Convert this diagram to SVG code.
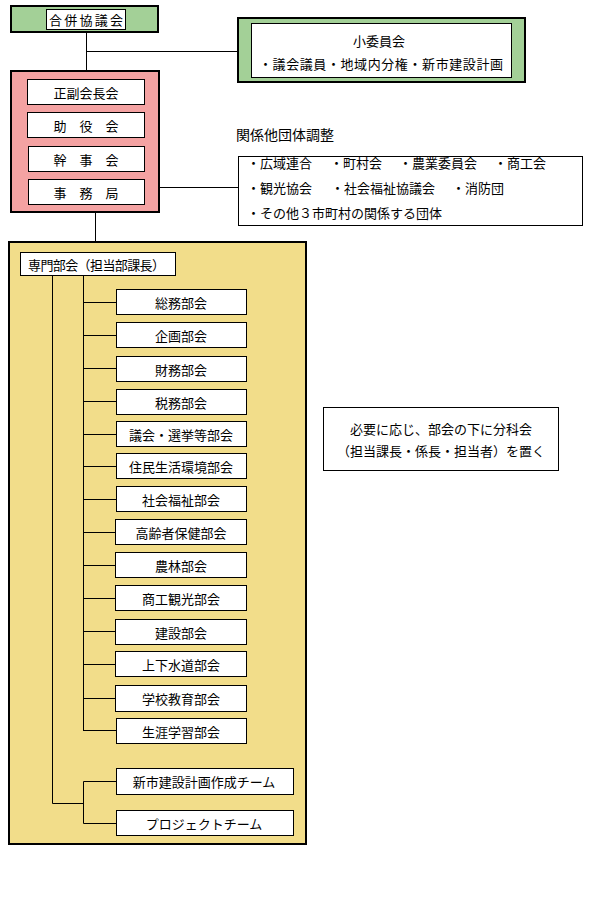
<svg xmlns="http://www.w3.org/2000/svg" width="590" height="907" viewBox="0 0 590 907">
<style>
text{font-family:"Noto Sans CJK JP","Noto Sans CJK SC",sans-serif;font-size:13px;fill:#000;dominant-baseline:central}
.c{text-anchor:middle}
.box{fill:#fff;stroke:#000;stroke-width:1}
.thick{stroke:#000;stroke-width:2}
.green{fill:#A3D097}
.pink{fill:#F4A2A2}
.yellow{fill:#F2DD8A}
.ln{stroke:#000;stroke-width:1;fill:none}
</style>
<rect width="590" height="907" fill="#fff"/>
<g id="gappei">
<rect class="green thick" x="11" y="6" width="147" height="26"/>
<rect class="box" x="46.5" y="9.5" width="79" height="20"/>
<text class="c" x="86" y="19.5" textLength="74" lengthAdjust="spacing">合併協議会</text>
</g>
<g id="shoiinkai">
<rect class="green thick" x="238" y="18" width="287" height="64"/>
<rect class="box" x="251.5" y="23.5" width="260" height="54"/>
<text class="c" x="379" y="40">小委員会</text>
<text class="c" x="381" y="63" textLength="244" lengthAdjust="spacing">・議会議員・地域内分権・新市建設計画</text>
</g>
<g id="kanbu">
<rect class="pink thick" x="11" y="71" width="148" height="141"/>
<g id="seifuku"><rect class="box" x="27.5" y="79.5" width="117" height="25"/><text class="c" x="86" y="92">正副会長会</text></g>
<g id="joyaku"><rect class="box" x="27.5" y="112.5" width="117" height="25"/><text class="c" x="86" y="125">助　役　会</text></g>
<g id="kanji"><rect class="box" x="28.5" y="146.5" width="116" height="25"/><text class="c" x="86" y="159">幹　事　会</text></g>
<g id="jimukyoku"><rect class="box" x="28.5" y="179.5" width="116" height="25"/><text class="c" x="86" y="192">事　務　局</text></g>
</g>
<g id="kankei">
<text x="236" y="134" style="font-size:14px">関係他団体調整</text>
<rect class="box" x="238.5" y="156.5" width="344" height="69"/>
<text x="247" y="162">・広域連合</text>
<text x="330" y="162">・町村会</text>
<text x="399" y="162">・農業委員会</text>
<text x="494" y="162">・商工会</text>
<text x="247" y="187">・観光協会</text>
<text x="331" y="187">・社会福祉協議会</text>
<text x="452" y="187">・消防団</text>
<text x="247" y="212">・その他３市町村の関係する団体</text>
</g>
<g id="senmon">
<rect class="yellow thick" x="9" y="242" width="297" height="602"/>
<g id="senmon-head"><rect class="box" x="20.5" y="252.5" width="155" height="23"/><text x="28" y="264" textLength="137" lengthAdjust="spacing">専門部会（担当部課長）</text></g>
<g id="n1"><rect class="box" x="116.5" y="289.5" width="130" height="25"/><text class="c" x="181" y="302">総務部会</text></g>
<g id="n2"><rect class="box" x="116.5" y="322.5" width="130" height="25"/><text class="c" x="181" y="335">企画部会</text></g>
<g id="n3"><rect class="box" x="116.5" y="356.5" width="130" height="25"/><text class="c" x="181" y="369">財務部会</text></g>
<g id="n4"><rect class="box" x="116.5" y="389.5" width="130" height="25"/><text class="c" x="181" y="402">税務部会</text></g>
<g id="n5"><rect class="box" x="116.5" y="421.5" width="130" height="25"/><text class="c" x="181" y="434">議会・選挙等部会</text></g>
<g id="n6"><rect class="box" x="116.5" y="453.5" width="130" height="25"/><text class="c" x="181" y="466">住民生活環境部会</text></g>
<g id="n7"><rect class="box" x="116.5" y="486.5" width="130" height="25"/><text class="c" x="181" y="499">社会福祉部会</text></g>
<g id="n8"><rect class="box" x="115.5" y="519.5" width="131" height="25"/><text class="c" x="181" y="532">高齢者保健部会</text></g>
<g id="n9"><rect class="box" x="115.5" y="552.5" width="131" height="25"/><text class="c" x="181" y="565">農林部会</text></g>
<g id="n10"><rect class="box" x="115.5" y="585.5" width="131" height="25"/><text class="c" x="181" y="598">商工観光部会</text></g>
<g id="n11"><rect class="box" x="115.5" y="619.5" width="131" height="25"/><text class="c" x="181" y="632">建設部会</text></g>
<g id="n12"><rect class="box" x="115.5" y="651.5" width="131" height="25"/><text class="c" x="181" y="664">上下水道部会</text></g>
<g id="n13"><rect class="box" x="115.5" y="685.5" width="131" height="26"/><text class="c" x="181" y="698">学校教育部会</text></g>
<g id="n14"><rect class="box" x="116.5" y="718.5" width="130" height="25"/><text class="c" x="181" y="731">生涯学習部会</text></g>
<g id="team1"><rect class="box" x="116.5" y="768.5" width="177" height="26"/><text class="c" x="204" y="781">新市建設計画作成チーム</text></g>
<g id="team2"><rect class="box" x="116.5" y="810.5" width="177" height="25"/><text class="c" x="204" y="823">プロジェクトチーム</text></g>
</g>
<g id="note">
<rect class="box" x="323.5" y="407.5" width="235" height="63"/>
<text class="c" x="441" y="428">必要に応じ、部会の下に分科会</text>
<text class="c" x="441" y="450">（担当課長・係長・担当者）を置く</text>
</g>
<g id="connectors">
<path class="ln" d="M86.5 32V71M86.5 51.5H237M159 187.5H238M95.5 212V241"/>
<path class="ln" d="M52.5 276V803.5H83M83.5 276V731"/>
<path class="ln" d="M83 302.5H116M83 335.5H116M83 368.5H116M83 401.5H116M83 434.5H116M83 466.5H116M83 499.5H116M83 532.5H115M83 565.5H115M83 598.5H115M83 631.5H115M83 664.5H115M83 698.5H115M83 730.5H116"/>
<path class="ln" d="M116 781.5H83.5V823.5H116"/>
</g>
</svg>
